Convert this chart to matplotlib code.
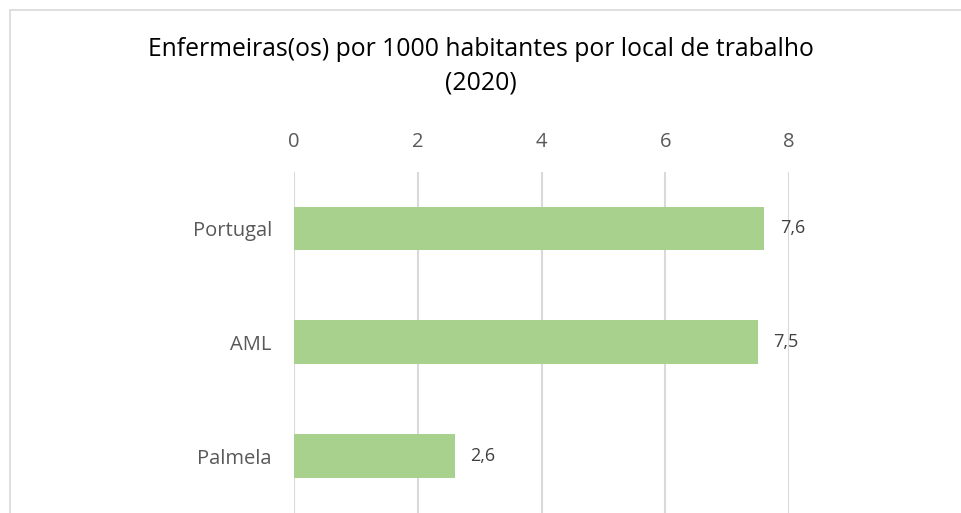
import matplotlib
matplotlib.use("Agg")
import matplotlib.pyplot as plt
from matplotlib.patches import Rectangle

categories = ["Palmela", "AML", "Portugal"]
values = [2.6, 7.5, 7.6]
tick_values = [0, 2, 4, 6, 8]
title = "Enfermeiras(os) por 1000 habitantes por local de trabalho\n(2020)"

plt.rcParams['font.family'] = ['Open Sans', 'DejaVu Sans']

fig = plt.figure(figsize=(9.61, 5.13), dpi=100)
ax = fig.add_axes([294 / 961, 0, 495 / 961, 341.5 / 513])

# chart border (only left/top visible in the crop)
fig.patches.append(Rectangle((9.5 / 961, -0.1), 1.2, (513 - 9.5) / 513 + 0.1,
                             transform=fig.transFigure, fill=False,
                             edgecolor="#D9D9D9", linewidth=1.2))

y = range(len(categories))
ax.barh(y, values, height=0.385, color="#A9D18E", zorder=3)
for yi, v in zip(y, values):
    ax.text(v + 0.25, yi, f"{v:.1f}".replace(".", ","), va="center", ha="left",
            fontsize=13, color="#404040")

ax.set_xlim(0, 8)
ax.set_ylim(-0.5, 2.5)
ax.set_xticks(tick_values)
ax.set_yticks(list(y))
ax.set_yticklabels(categories)
ax.xaxis.tick_top()
ax.tick_params(axis="x", length=0, pad=14, labelsize=14.5, labelcolor="#595959")
ax.tick_params(axis="y", length=0, pad=16, labelsize=14.5, labelcolor="#595959")
ax.grid(axis="x", color="#D9D9D9", linewidth=1.5, zorder=0)
ax.set_axisbelow(True)
for s in ax.spines.values():
    s.set_visible(False)

fig.text(0.5, 1 - 66.5 / 513, title, ha="center", va="center", fontsize=17.8,
         color="#000000", linespacing=1.45)

fig.savefig("out.png", dpi=100)
